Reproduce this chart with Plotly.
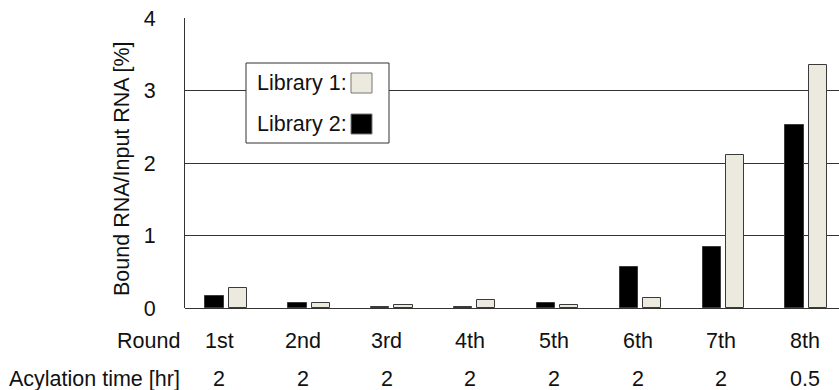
import plotly.graph_objects as go

# Selection rounds and acylation times
rounds = ["1st", "2nd", "3rd", "4th", "5th", "6th", "7th", "8th"]
acylation_hr = ["2", "2", "2", "2", "2", "2", "2", "0.5"]

# Bound RNA / input RNA [%]
library1 = [0.275, 0.075, 0.036, 0.11, 0.036, 0.142, 2.11, 3.35]
library2 = [0.17, 0.07, 0.014, 0.014, 0.064, 0.565, 0.84, 2.53]

y_ticks = [0, 1, 2, 3, 4]

LIGHT = "#ECEADF"
DARK = "#000000"
EDGE = "#3a3a3a"
GRID = "#333333"
FONT = "Liberation Sans, Arial, sans-serif"
FS = 21.5
TXT = "#111111"

xs = list(range(len(rounds)))

fig = go.Figure()
fig.add_trace(go.Bar(x=xs, y=library2, width=0.22, offset=-0.253,
                     marker=dict(color=DARK, line=dict(color=EDGE, width=1)),
                     name="Library 2", showlegend=False))
fig.add_trace(go.Bar(x=xs, y=library1, width=0.22, offset=0.027,
                     marker=dict(color=LIGHT, line=dict(color=EDGE, width=1)),
                     name="Library 1", showlegend=False))

W, H = 839, 390
L, R, T, B = 185, 0, 18, 82
plot_w = W - L - R
plot_h = H - T - B
px_per_cat = 82.86
x_end = -0.5 + plot_w / px_per_cat

fig.update_layout(
    width=W, height=H,
    margin=dict(l=L, r=R, t=T, b=B),
    plot_bgcolor="white", paper_bgcolor="white",
    font=dict(family=FONT, size=FS, color=TXT),
    xaxis=dict(range=[-0.5, x_end], showticklabels=False, showgrid=False,
               zeroline=False, showline=False, ticks=""),
    yaxis=dict(range=[0, 4], tickvals=y_ticks, ticktext=[str(v) for v in y_ticks],
               showgrid=True, gridcolor=GRID, gridwidth=1,
               zeroline=True, zerolinecolor=GRID, zerolinewidth=1,
               showline=True, linecolor=GRID, linewidth=1,
               ticks="", ticklabelstandoff=24,
               tickfont=dict(size=FS, family=FONT, color=TXT)),
    bargap=0,
)


def to_paper_x(p):
    return (p - L) / plot_w


def to_paper_y(p):
    return 1 - (p - T) / plot_h


# Y axis title
fig.add_annotation(text="Bound RNA/Input RNA [%]", textangle=-90,
                   xref="paper", yref="paper",
                   x=to_paper_x(122), y=to_paper_y(169),
                   xanchor="center", yanchor="middle", showarrow=False,
                   font=dict(size=FS, family=FONT, color=TXT))

# Row labels beneath the axis
ROW_Y = [341, 379]
for label, ypx in zip(["Round", "Acylation time [hr]"], ROW_Y):
    fig.add_annotation(text=label, xref="paper", yref="paper",
                       x=to_paper_x(182), y=to_paper_y(ypx),
                       xanchor="right", yanchor="middle", showarrow=False,
                       font=dict(size=FS, family=FONT, color=TXT))

for i, (r, a) in enumerate(zip(rounds, acylation_hr)):
    for label, ypx in zip([r, a], ROW_Y):
        fig.add_annotation(text=label, x=i, xref="x", yref="paper",
                           y=to_paper_y(ypx), xshift=-7 + i * 0.8,
                           xanchor="center", yanchor="middle", showarrow=False,
                           font=dict(size=FS, family=FONT, color=TXT))

# Legend box drawn inside the plot
fig.add_shape(type="rect", xref="paper", yref="paper",
              x0=to_paper_x(246), x1=to_paper_x(389),
              y0=to_paper_y(143), y1=to_paper_y(63),
              fillcolor="white", line=dict(color=GRID, width=1), layer="above")
for label, color, ypx in [("Library 1:", LIGHT, 83), ("Library 2:", DARK, 124)]:
    fig.add_annotation(text=label, xref="paper", yref="paper",
                       x=to_paper_x(349), y=to_paper_y(ypx),
                       xanchor="right", yanchor="middle", showarrow=False,
                       font=dict(size=FS, family=FONT, color=TXT))
    fig.add_shape(type="rect", xref="paper", yref="paper",
                  x0=to_paper_x(351), x1=to_paper_x(372),
                  y0=to_paper_y(ypx + 10), y1=to_paper_y(ypx - 10),
                  fillcolor=color, line=dict(color="#777", width=1), layer="above")

fig.write_html("out.html")
